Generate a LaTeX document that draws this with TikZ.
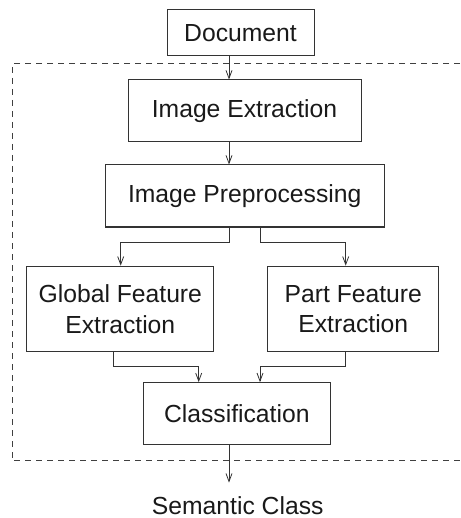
\documentclass[tikz,border=0pt]{standalone}
\usepackage{fontspec}
\setmainfont{Liberation Sans}
\usetikzlibrary{arrows.meta}
\begin{document}
\begin{tikzpicture}[x=1pt,y=-1pt,
  line width=1pt,
  every node/.style={font=\fontsize{24.7}{30.7}\selectfont, text=black!90},
  box/.style={draw=black!80, rectangle, inner sep=0pt, align=center},
  arr/.style={draw=black!80, -{Straight Barb[length=8pt,width=6pt,line width=0.8pt]}},
  dashbox/.style={draw=black!75, dashed, dash pattern=on 6pt off 5pt}]
\useasboundingbox (0,0) rectangle (460,518);
\coordinate (cx) at (229,0);
\node[box, minimum width=147pt, minimum height=46pt] (doc) at (240.5,33) {Document};
\node[box, minimum width=233pt, minimum height=62pt] (ext) at (244.5,111) {Image Extraction};
\node[box, minimum width=279pt, minimum height=62pt] (pre) at (244.7,196) {Image Preprocessing};
\node[box, minimum width=186.7pt, minimum height=85.7pt] (glob) at (120.3,309) {Global Feature\\Extraction};
\node[box, minimum width=170.7pt, minimum height=85.7pt] (part) at (353.3,309) {Part Feature\\Extraction};
\node[box, minimum width=187pt, minimum height=62pt] (cls) at (236.8,413.7) {Classification};
\node[inner sep=0pt, anchor=base] (sem) at (237.7,514) {Semantic Class};
\draw[dashbox] (460,64) -- (12,64) -- (12,460.7) -- (460,460.7);
\coordinate (gx) at (120.7,0);
\coordinate (px) at (345.7,0);
\coordinate (glx) at (113,0);
\coordinate (crl) at (198.7,0);
\coordinate (crr) at (260,0);
\draw[arr] (doc.south -| cx) -- (ext.north -| cx);
\draw[arr] (ext.south -| cx) -- (pre.north -| cx);
\draw[arr] (pre.south -| cx) -- (229,242.7) -- (120.7,242.7) -- (glob.north -| gx);
\draw[arr] (pre.south -| crr) -- (260,242.7) -- (345.7,242.7) -- (part.north -| px);
\draw[arr] (glob.south -| glx) -- (113,366.7) -- (198.7,366.7) -- (cls.north -| crl);
\draw[arr] (part.south -| px) -- (345.7,366.7) -- (260,366.7) -- (cls.north -| crr);
\draw[arr] (cls.south -| cx) -- ([yshift=13pt]sem.north -| cx);
\end{tikzpicture}
\end{document}
